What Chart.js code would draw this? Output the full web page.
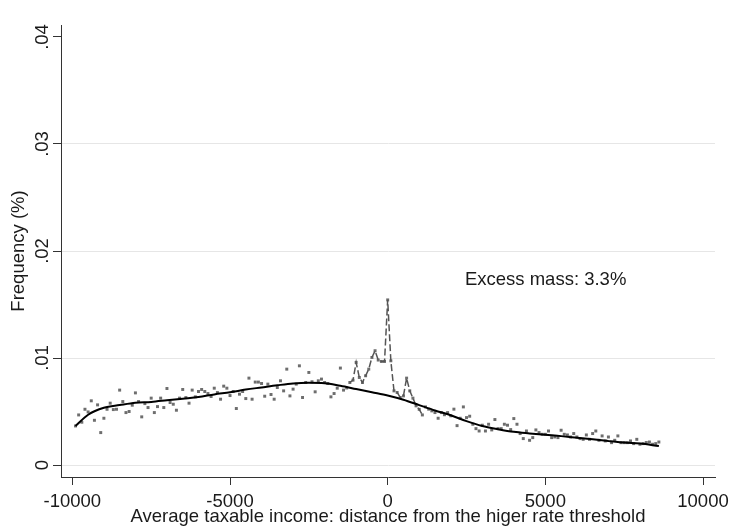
<!DOCTYPE html>
<html>
<head>
<meta charset="utf-8">
<script src="https://cdn.jsdelivr.net/npm/chart.js@4.4.0/dist/chart.umd.min.js"></script>
<style>
    html, body { margin: 0; padding: 0; background: #fff; }
</style>
</head>
<body>
<canvas id="bunching-chart" width="730" height="526"></canvas>
<script>
// bins of 100 starting at -9900
var binStart = -9900;
var binWidth = 100;
var freq = [
    .00365, .00468, .0040, .00521, .00496, .0060, .00418, .00562, .00303, .00437,
    .00521, .00578, .00518, .00521, .0070, .00593, .0049, .0050, .00559, .00674,
    .00593, .0045, .00574, .00537, .00625, .0049, .00546, .00625, .00537, .00715,
    .00584, .00568, .00512, .00625, .00706, .0063, .00578, .0070, .00637, .00687,
    .00706, .00687, .00668, .0064, .00718, .00677, .00615, .00737, .00718, .00649,
    .00687, .00528, .00662, .00687, .00621, .00812, .00615, .00775, .00775, .00762,
    .00643, .00756, .00659, .00615,
    .00724, .00787, .00693, .00896, .00646, .00709, .00756, .00927, .00631, .00771,
    .00865, .00778, .00684, .00787, .00803, .00771, .00762, .00637, .00668, .00718,
    .00906, .0070, .0072,
    .00771, .00793, .00959, .00818, .00771, .00834, .00896, .01005, .01068, .00981,
    .00968, .00968, .01543, .00974, .00693, .00678, .00631, .00646, .00812, .00693,
    .00625, .00553, .0052, .00468,
    .00543, .00522, .00506, .0049, .00437, .0049, .0047, .0049, .0046, .00522,
    .00368, .00437, .00543, .00443, .00456, .00381, .0034, .00318, .00372, .00318,
    .00381, .00328, .00425, .0034, .0034, .00381, .00372, .00331, .00434, .00381,
    .00294, .00247, .00318, .00231, .00256, .00328, .00303, .00287, .00287, .00318,
    .00256, .00262, .00256, .00325, .00287, .00281, .00262, .00294, .00262, .00247,
    .0024, .00281, .0024, .00294, .00318, .00231, .00272, .00225, .00262, .00209,
    .00231, .00272, .00209, .00209, .00209, .00225, .002, .0024, .00194, .002,
    .0021, .00215, .00194, .002, .00215
];
// window around the threshold drawn as a dashed line
var dashFrom = -1200;
var dashTo = 1100;

// counterfactual fit
var fitX = [-9900, -9500, -9000, -8500, -8000, -7500, -7000, -6500, -6000, -5500, -5000, -4500, -4000,
    -3500, -3000, -2500, -2000, -1500, -1000, -500, 0, 500, 1000, 1500, 2000, 2500, 3000, 3500,
    4000, 4500, 5000, 5500, 6000, 6500, 7000, 7500, 8000, 8600];
var fitY = [.00365, .0047, .00535, .0056, .00582, .0059, .00605, .0062, .00635, .0066, .0068, .00705, .00725,
    .00745, .00762, .00768, .00765, .0074, .0071, .0068, .0065, .0061, .0056, .0051, .00465, .0041, .00365, .00335,
    .0031, .00295, .00282, .0027, .00255, .0024, .00225, .0021, .002, .00178];

var xTicks = [-10000, -5000, 0, 5000, 10000];
var yTicks = [0, .01, .02, .03, .04];
var noteText = 'Excess mass: 3.3%';
var noteAt = [2450, .0173];

var pts = [];
var dashPts = [];
for (var i = 0; i < freq.length; i++) {
    var x = binStart + i * binWidth;
    pts.push({ x: x, y: freq[i] });
    if (x >= dashFrom && x <= dashTo) {
        dashPts.push({ x: x, y: freq[i] });
    }
}
var fitPts = [];
for (var j = 0; j < fitX.length; j++) {
    fitPts.push({ x: fitX[j], y: fitY[j] });
}

var fontCss = '18.5px "Liberation Sans", Arial, sans-serif';
var txtFont = { family: 'Liberation Sans, Arial, sans-serif', size: 18.5 };

function yLabel(v) {
    return v === 0 ? '0' : v.toFixed(2).replace(/^0/, '');
}

// note text + rotated y tick labels (Stata style)
var textPlugin = {
    id: 'stataText',
    afterDatasetsDraw: function (chart) {
        var ctx = chart.ctx;
        var ys = chart.scales.y;
        ctx.save();
        ctx.font = fontCss;
        ctx.fillStyle = '#1a1a1a';
        ctx.textAlign = 'left';
        ctx.textBaseline = 'middle';
        ctx.fillText(noteText, chart.scales.x.getPixelForValue(noteAt[0]), ys.getPixelForValue(noteAt[1]));

        ctx.textAlign = 'center';
        for (var k = 0; k < yTicks.length; k++) {
            ctx.save();
            ctx.translate(43, ys.getPixelForValue(yTicks[k]));
            ctx.rotate(-Math.PI / 2);
            ctx.fillText(yLabel(yTicks[k]), 0, 0);
            ctx.restore();
        }
        ctx.restore();
    }
};

new Chart(document.getElementById('bunching-chart'), {
    type: 'scatter',
    data: {
        datasets: [
            {
                data: fitPts,
                showLine: true,
                borderColor: '#000',
                borderWidth: 2,
                pointRadius: 0,
                cubicInterpolationMode: 'monotone'
            },
            {
                data: dashPts,
                showLine: true,
                borderColor: '#555',
                borderWidth: 1.5,
                borderDash: [7, 3],
                pointRadius: 0
            },
            {
                data: pts,
                pointStyle: 'rect',
                pointRadius: 2.1,
                pointBackgroundColor: '#6e6e6e',
                pointBorderWidth: 0
            }
        ]
    },
    options: {
        responsive: false,
        animation: false,
        devicePixelRatio: 1,
        layout: { autoPadding: false, padding: { top: 25, right: 15, left: 0, bottom: 0 } },
        plugins: {
            legend: { display: false },
            tooltip: { enabled: false }
        },
        scales: {
            x: {
                type: 'linear',
                min: -10360,
                max: 10380,
                afterBuildTicks: function (s) { s.ticks = xTicks.map(function (v) { return { value: v }; }); },
                afterFit: function (s) { s.height = 49; s.paddingLeft = 0; s.paddingRight = 0; },
                ticks: { font: txtFont, color: '#1a1a1a', padding: 6, maxRotation: 0, callback: function (v) { return String(v); } },
                grid: { drawOnChartArea: false, tickLength: 8, tickColor: '#333' },
                border: { color: '#333', width: 1 },
                title: { display: true, text: 'Average taxable income: distance from the higer rate threshold', font: txtFont, color: '#1a1a1a', padding: { top: 0, bottom: -2 } }
            },
            y: {
                min: -0.00112,
                max: 0.04112,
                afterBuildTicks: function (s) { s.ticks = yTicks.map(function (v) { return { value: v }; }); },
                afterFit: function (s) { s.width = 61; s.paddingTop = 0; s.paddingBottom = 0; },
                ticks: { display: false },
                grid: {
                    color: function (c) { return c.tick && c.tick.value === .04 ? 'rgba(0,0,0,0)' : '#e6e6e6'; },
                    tickLength: 8,
                    tickColor: '#333'
                },
                border: { color: '#333', width: 1 },
                title: { display: true, text: 'Frequency (%)', font: txtFont, color: '#1a1a1a', padding: { top: 8, bottom: 0 } }
            }
        }
    },
    plugins: [textPlugin]
});
</script>
</body>
</html>
